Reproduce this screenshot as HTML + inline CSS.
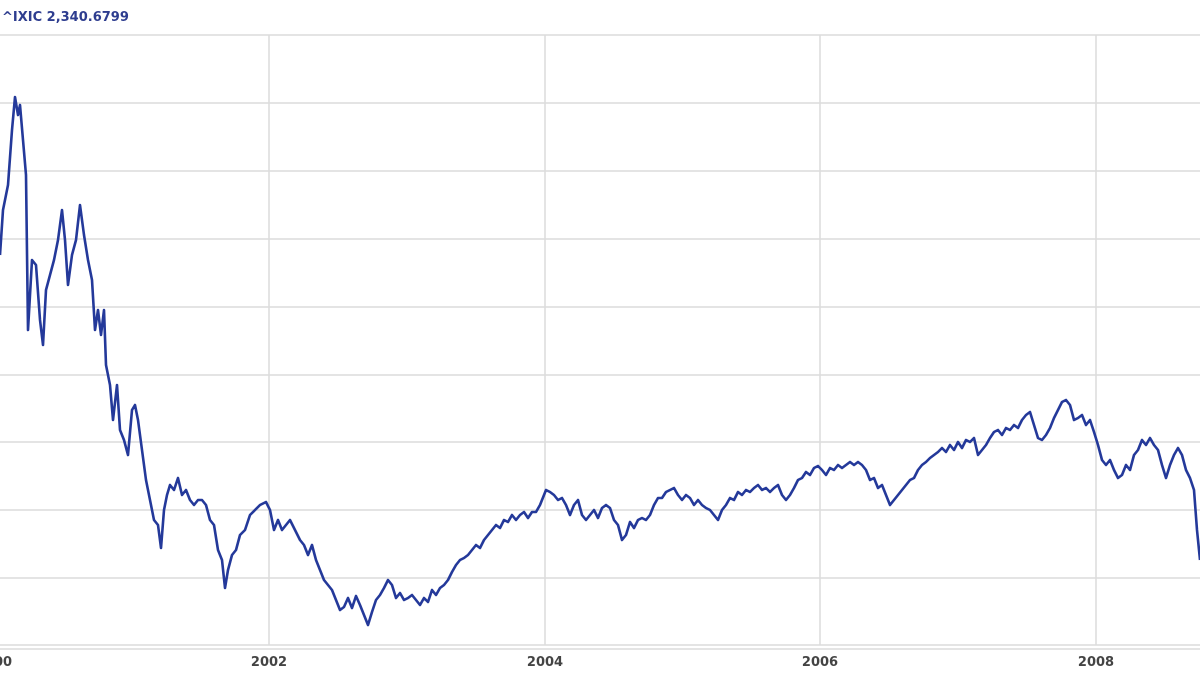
<!DOCTYPE html>
<html><head><meta charset="utf-8"><style>
html,body{margin:0;padding:0;background:#fff;width:1200px;height:675px;overflow:hidden}
</style></head><body>
<svg width="1200" height="675" viewBox="0 0 1200 675" xmlns="http://www.w3.org/2000/svg">
<rect width="1200" height="675" fill="#fff"/>
<g stroke="#dcdcdc" stroke-width="1.5">
<line x1="0" y1="35" x2="1200" y2="35"/>
<line x1="0" y1="103" x2="1200" y2="103"/>
<line x1="0" y1="171" x2="1200" y2="171"/>
<line x1="0" y1="239" x2="1200" y2="239"/>
<line x1="0" y1="307" x2="1200" y2="307"/>
<line x1="0" y1="375" x2="1200" y2="375"/>
<line x1="0" y1="442" x2="1200" y2="442"/>
<line x1="0" y1="510" x2="1200" y2="510"/>
<line x1="0" y1="578" x2="1200" y2="578"/>
<line x1="0" y1="645" x2="1200" y2="645"/>
<line x1="0" y1="649" x2="1200" y2="649"/>
<line x1="269" y1="35" x2="269" y2="645"/>
<line x1="545" y1="35" x2="545" y2="645"/>
<line x1="820" y1="35" x2="820" y2="645"/>
<line x1="1096" y1="35" x2="1096" y2="645"/>
</g>
<text x="2" y="21" font-family="'DejaVu Sans','Liberation Sans',sans-serif" font-weight="bold" font-size="13" fill="#2e3d8f">^IXIC  2,340.6799</text>
<g font-family="'DejaVu Sans','Liberation Sans',sans-serif" font-weight="bold" font-size="13" fill="#444" text-anchor="middle">
<text x="-6" y="666">2000</text>
<text x="269" y="666">2002</text>
<text x="545" y="666">2004</text>
<text x="820" y="666">2006</text>
<text x="1096" y="666">2008</text>
</g>
<polyline fill="none" stroke="#24399a" stroke-width="2.6" stroke-linejoin="round" points="0,255 3,210 8,185 12,130 15,97 18,115 20,105 23,140 26,175 28,330 32,260 36,265 40,320 43,345 46,290 50,275 54,260 58,240 62,210 65,240 68,285 72,255 76,240 80,205 84,235 88,260 92,280 95,330 98,310 101,335 104,310 106,365 110,385 113,420 117,385 120,430 124,440 128,455 132,410 135,405 138,420 142,450 146,480 150,500 154,520 158,525 161,548 164,510 167,495 170,485 174,490 178,478 182,495 186,490 190,500 194,505 198,500 202,500 206,505 210,520 214,525 218,550 222,560 225,588 228,570 232,555 236,550 240,535 245,530 250,515 255,510 260,505 266,502 270,510 274,530 278,520 282,530 286,525 290,520 295,530 300,540 304,545 308,555 312,545 316,560 320,570 324,580 328,585 332,590 336,600 340,610 344,607 348,598 352,608 356,596 360,605 364,615 368,625 372,612 376,600 380,595 384,588 388,580 392,585 396,598 400,593 404,600 408,598 412,595 416,600 420,605 424,598 428,602 432,590 436,595 440,588 444,585 448,580 452,572 456,565 460,560 464,558 468,555 472,550 476,545 480,548 484,540 488,535 492,530 496,525 500,528 504,520 508,522 512,515 516,520 520,515 524,512 528,518 532,512 536,512 540,505 544,495 546,490 550,492 554,495 558,500 562,498 566,505 570,515 574,505 578,500 582,515 586,520 590,515 594,510 598,518 602,508 606,505 610,508 614,520 618,525 622,540 626,535 630,522 634,528 638,520 642,518 646,520 650,515 654,505 658,498 662,498 666,492 670,490 674,488 678,495 682,500 686,495 690,498 694,505 698,500 702,505 706,508 710,510 714,515 718,520 722,510 726,505 730,498 734,500 738,492 742,495 746,490 750,492 754,488 758,485 762,490 766,488 770,492 774,488 778,485 782,495 786,500 790,495 794,488 798,480 802,478 806,472 810,475 814,468 818,466 822,470 826,475 830,468 834,470 838,465 842,468 846,465 850,462 854,465 858,462 862,465 866,470 870,480 874,478 878,488 882,485 886,495 890,505 894,500 898,495 902,490 906,485 910,480 914,478 918,470 922,465 926,462 930,458 934,455 938,452 942,448 946,452 950,445 954,450 958,442 962,448 966,440 970,442 974,438 978,455 982,450 986,445 990,438 994,432 998,430 1002,435 1006,428 1010,430 1014,425 1018,428 1022,420 1026,415 1030,412 1034,425 1038,438 1042,440 1046,435 1050,428 1054,418 1058,410 1062,402 1066,400 1070,405 1074,420 1078,418 1082,415 1086,425 1090,420 1094,432 1098,445 1102,460 1106,465 1110,460 1114,470 1118,478 1122,475 1126,465 1130,470 1134,455 1138,450 1142,440 1146,445 1150,438 1154,445 1158,450 1162,465 1166,478 1170,465 1174,455 1178,448 1182,455 1186,470 1190,478 1194,490 1197,530 1200,560"/>
</svg>
</body></html>
